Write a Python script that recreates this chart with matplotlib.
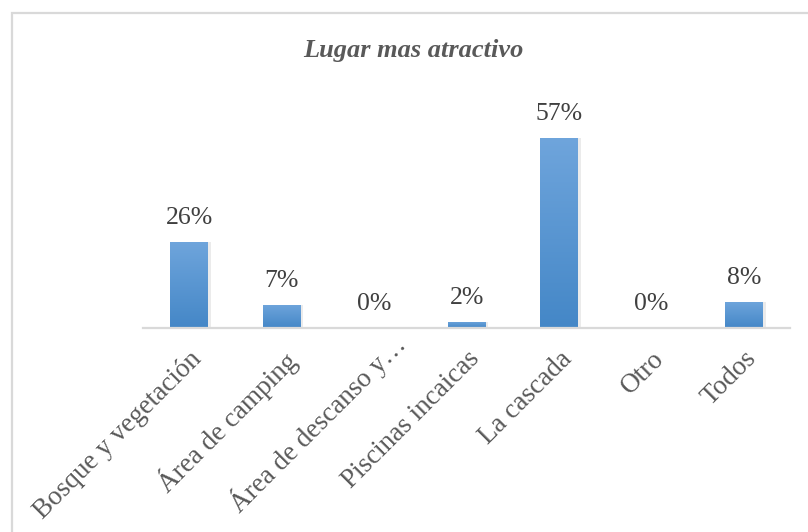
import numpy as np
import matplotlib.pyplot as plt
import matplotlib.transforms as mtransforms
from matplotlib.patches import Rectangle
from matplotlib.colors import LinearSegmentedColormap

categories = ["Bosque y vegetación", "Área de camping", "Área de descanso y…",
              "Piscinas incaicas", "La cascada", "Otro", "Todos"]
values = [26, 7, 0, 2, 57, 0, 8]
labels = ["26%", "7%", "0%", "2%", "57%", "0%", "8%"]
title = "Lugar mas atractivo"

plt.rcParams['font.family'] = ['Liberation Serif', 'DejaVu Serif']

fig = plt.figure(figsize=(8.08, 5.32), dpi=100)
ax = fig.add_axes([0.177, 0.383, 0.801, 0.376])

# outer chart frame (clipped at right and bottom like the reference)
fig.patches.append(Rectangle((12 / 808, -0.1), 1.2, 1.1 - 13 / 532,
                             transform=fig.transFigure, fill=False,
                             edgecolor="#d9d9d9", lw=1.6, clip_on=False))

x = np.arange(len(categories))
width = 0.41
bars = ax.bar(x, values, width=width, color="#5b9bd5", zorder=2)

# vertical gradient inside each bar
cmap = LinearSegmentedColormap.from_list("blu", ["#4487c7", "#6fa5dc"])
grad = np.linspace(0, 1, 256).reshape(-1, 1)
for b in bars:
    h = b.get_height()
    if h <= 0:
        continue
    # soft shadow
    ax.bar(b.get_x() + b.get_width() / 2 + 0.015, h, width=width + 0.03,
           color="#000000", alpha=0.08, zorder=1)
    im = ax.imshow(grad, cmap=cmap, aspect="auto", origin="lower",
                   extent=[b.get_x(), b.get_x() + b.get_width(), 0, h], zorder=3)
    im.set_clip_path(b)

for xi, v, lab in zip(x, values, labels):
    ax.annotate(lab, (xi, v), xytext=(0, 13), textcoords="offset points",
                ha="center", va="baseline", fontsize=18.5, color="#404040")

ax.set_xlim(-0.5, len(categories) - 0.5)
ax.set_ylim(0, 60)
ax.set_yticks([])
ax.set_xticks(x)
ax.set_xticklabels(categories, rotation=45, ha="right", rotation_mode="anchor",
                   fontsize=19.5, color="#595959")
ax.tick_params(axis="x", length=0, pad=13)

# the truncated label sits a bit higher/right in the reference
lbl = ax.get_xticklabels()[2]
lbl.set_transform(lbl.get_transform() +
                  mtransforms.ScaledTranslation(0.17, 0.17, fig.dpi_scale_trans))

for s in ["top", "right", "left"]:
    ax.spines[s].set_visible(False)
ax.spines["bottom"].set_color("#d9d9d9")
ax.spines["bottom"].set_linewidth(1.6)
ax.spines["bottom"].set_zorder(4)

fig.text(0.512, 1 - 50 / 532, title, ha="center", va="center", fontsize=19,
         fontweight="bold", fontstyle="italic", color="#595959")

fig.savefig("out.png", dpi=100)
